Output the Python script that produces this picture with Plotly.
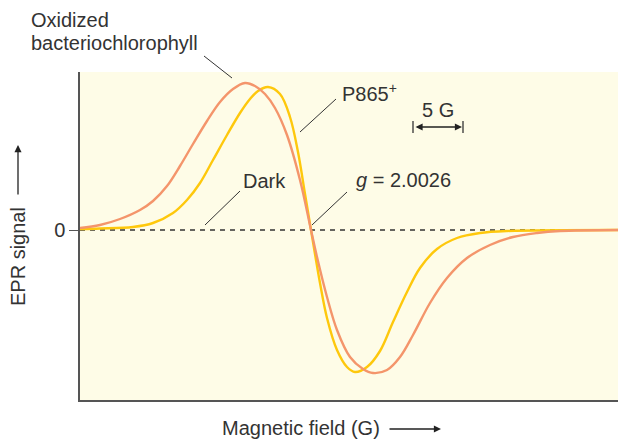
import plotly.graph_objects as go

# Magnetic field (G) positions and EPR signal (arbitrary units)
ox_field = [0, 2.0, 4.0, 6.0, 7.3, 8.7, 10.0, 11.3, 12.7, 14.0, 15.3, 16.5, 17.5, 18.5,
            19.5, 20.7, 22.0, 23.1, 23.7, 24.7, 25.7, 27.0, 28.3, 29.3, 30.7, 32.0, 33.3,
            35.0, 36.7, 38.7, 41.0, 43.3, 45.7, 48.0, 53.8]
ox_signal = [0.02, 0.05, 0.11, 0.20, 0.29, 0.44, 0.64, 0.86, 1.09, 1.28, 1.41, 1.47, 1.44, 1.36,
             1.22, 0.95, 0.50, 0.0, -0.27, -0.67, -1.00, -1.27, -1.39, -1.43, -1.40, -1.27, -1.05,
             -0.73, -0.48, -0.28, -0.15, -0.07, -0.03, -0.01, 0.0]

p865_field = [0, 2.0, 5.3, 7.3, 9.3, 10.7, 12.0, 13.3, 14.7, 16.0, 17.0, 17.8, 18.8, 20.0,
              21.0, 21.8, 22.5, 23.1, 23.5, 24.0, 24.7, 25.7, 26.7, 27.5, 28.7, 30.0, 31.3,
              32.7, 34.0, 35.7, 37.7, 40.0, 42.7, 53.8]
p865_signal = [0.01, 0.015, 0.03, 0.07, 0.17, 0.30, 0.47, 0.70, 0.95, 1.17, 1.31, 1.39, 1.43, 1.36,
               1.13, 0.78, 0.36, 0.0, -0.24, -0.53, -0.88, -1.20, -1.37, -1.42, -1.37, -1.21, -0.92,
               -0.62, -0.38, -0.19, -0.08, -0.03, -0.01, 0.0]

y_ticks = [0]
y_tick_labels = ["0"]

W, H = 618, 440
L, R, T, B = 80, 0, 72, 40
PW, PH = W - L - R, H - T - B


def px(x):
    return (x - L) / PW


def py(y):
    return (H - B - y) / PH


FONT = "Liberation Sans, Arial, sans-serif"
TXT = "#333333"
ORANGE = "#F4956B"
YELLOW = "#FEC80C"
FS = 20

fig = go.Figure()
fig.add_trace(go.Scatter(x=p865_field, y=p865_signal, mode="lines",
                         line=dict(color=YELLOW, width=2.4, shape="spline", smoothing=1.0),
                         hoverinfo="skip", showlegend=False))
fig.add_trace(go.Scatter(x=ox_field, y=ox_signal, mode="lines",
                         line=dict(color=ORANGE, width=2.4, shape="spline", smoothing=1.0),
                         hoverinfo="skip", showlegend=False))

shapes = []
# dashed zero baseline ("Dark")
shapes.append(dict(type="line", xref="paper", yref="y", x0=0, x1=1, y0=0, y1=0,
                   line=dict(color="#333333", width=1.3, dash="5px,5px"), layer="below"))


def seg(x0, y0, x1, y1, w=1):
    shapes.append(dict(type="line", xref="paper", yref="paper",
                       x0=px(x0), y0=py(y0), x1=px(x1), y1=py(y1),
                       line=dict(color="#333333", width=w)))


# leader lines
seg(204, 56, 232, 78)
seg(336, 99, 300, 132)
seg(347, 192, 312, 225)
seg(240, 191, 205, 225)
# scale bar end ticks
seg(413, 121, 413, 133, 1.3)
seg(463, 121, 463, 133, 1.3)

ann = []


def text(x, y, s, xanchor="left", size=FS, angle=0):
    ann.append(dict(xref="paper", yref="paper", x=px(x), y=py(y), text=s, showarrow=False,
                    xanchor=xanchor, yanchor="middle", textangle=angle,
                    font=dict(family=FONT, size=size, color=TXT)))


def arrow(hx, hy, tx, ty, both=False):
    ann.append(dict(xref="paper", yref="paper", x=px(hx), y=py(hy), text="",
                    showarrow=True, axref="pixel", ayref="pixel", ax=tx - hx, ay=ty - hy,
                    arrowhead=2, arrowsize=1.1, arrowwidth=1.3, arrowcolor="#222222",
                    arrowside="end+start" if both else "end", startarrowhead=2, startarrowsize=1.1))


text(29, 20, "Oxidized")
text(29, 43, "bacteriochlorophyll")
text(340, 92, "P865<sup>+</sup>")
text(438, 110, "5 G", xanchor="center")
text(354, 180, "<i>g</i> = 2.0026")
text(241, 181, "Dark")
text(18, 257, "EPR signal", xanchor="center", angle=-90)
text(220, 428, "Magnetic field (G)")

arrow(18, 145, 18, 196)
arrow(441, 429, 388, 429)
arrow(462, 127, 414, 127, both=True)

fig.update_layout(
    width=W, height=H,
    margin=dict(l=L, r=R, t=T, b=B),
    paper_bgcolor="white",
    plot_bgcolor="#FEFCE7",
    shapes=shapes,
    annotations=ann,
    xaxis=dict(range=[0, 53.8], showgrid=False, zeroline=False, showticklabels=False,
               ticks="", showline=True, linecolor="#555555", linewidth=1.5, fixedrange=True),
    yaxis=dict(range=[-1.70, 1.58], showgrid=False, zeroline=False,
               tickvals=y_ticks, ticktext=y_tick_labels, ticks="outside", ticklen=9,
               tickcolor="#555555", tickwidth=1.2,
               tickfont=dict(family=FONT, size=FS, color=TXT),
               showline=True, linecolor="#555555", linewidth=1.5, fixedrange=True),
)

fig.write_html("out.html", config={"displayModeBar": False},
               post_script="document.body.style.margin='0';document.body.style.overflow='hidden';")
